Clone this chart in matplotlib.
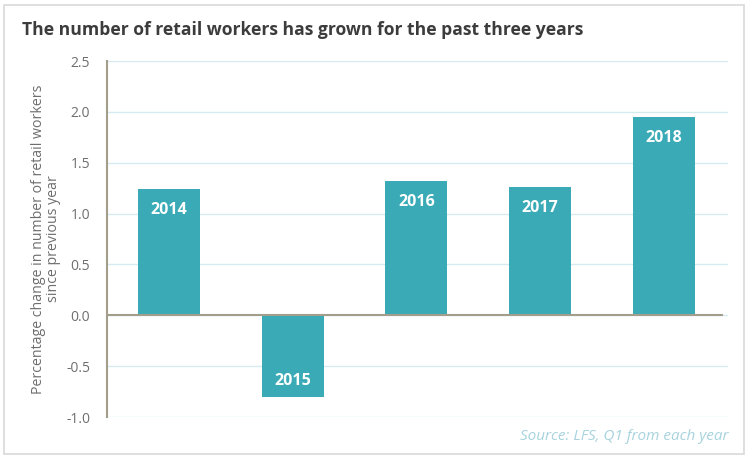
import matplotlib
matplotlib.use("Agg")
import matplotlib.pyplot as plt
from matplotlib.patches import Rectangle

# Data
YEARS = ["2014", "2015", "2016", "2017", "2018"]
PCT_CHANGE = [1.24, -0.80, 1.32, 1.26, 1.95]
Y_TICKS = [-1.0, -0.5, 0.0, 0.5, 1.0, 1.5, 2.0, 2.5]

TITLE = "The number of retail workers has grown for the past three years"
Y_LABEL = "Percentage change in number of retail workers\nsince previous year"
SOURCE = "Source: LFS, Q1 from each year"

BAR_COLOR = "#3aabb6"
GRID_COLOR = "#d6ebf1"
AXIS_COLOR = "#a39d8c"
TEXT_GRAY = "#6e6e6e"

plt.rcParams["font.family"] = ["Open Sans", "DejaVu Sans"]

fig = plt.figure(figsize=(7.5, 4.59), dpi=100)
ax = fig.add_axes([0.1427, 0.0915, 0.828, 0.7756])

x = list(range(len(YEARS)))
ax.bar(x, PCT_CHANGE, width=0.5, color=BAR_COLOR, zorder=2)

for xi, val, year in zip(x, PCT_CHANGE, YEARS):
    offset = -15 if val >= 0 else 11
    ax.annotate(year, (xi, val), xytext=(0, offset), textcoords="offset points",
                ha="center", va="center", color="white", fontsize=11.5,
                fontweight="bold", zorder=3)

ax.set_xlim(-0.5, 4.52)
ax.set_ylim(-1.0, 2.5)
ax.set_yticks(Y_TICKS)
ax.set_yticklabels([f"{t:.1f}" for t in Y_TICKS])
ax.set_xticks([])
ax.yaxis.grid(True, color=GRID_COLOR, linewidth=1.0, zorder=0)
ax.set_axisbelow(True)
ax.axhline(0, xmin=0, xmax=0.99, color=AXIS_COLOR, linewidth=1.5, zorder=3)

for side in ["top", "right", "bottom"]:
    ax.spines[side].set_visible(False)
ax.spines["left"].set_color(AXIS_COLOR)
ax.spines["left"].set_linewidth(1.5)
ax.tick_params(axis="y", length=0, pad=12, labelsize=10, labelcolor=TEXT_GRAY)

ax.set_ylabel(Y_LABEL, fontsize=10.2, color=TEXT_GRAY, labelpad=4, linespacing=1.0)

fig.text(22 / 750, 1 - 30 / 459, TITLE, fontsize=12.6, fontweight="bold",
         color="#3c3c3c", ha="left", va="center")
fig.text(728 / 750, 1 - 437 / 459, SOURCE, fontsize=11, style="italic",
         color="#a7d3de", ha="right", va="center")

border = Rectangle((4 / 750, 5 / 459), 740 / 750, 449 / 459, transform=fig.transFigure,
                   fill=False, edgecolor="#d9d9d9", linewidth=1.2)
fig.patches.append(border)

fig.savefig("out.png", dpi=100)
